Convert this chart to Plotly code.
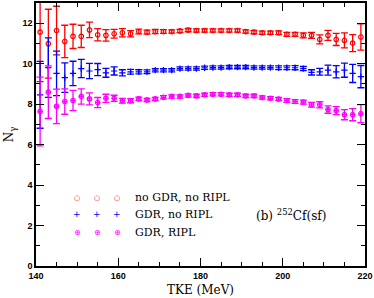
import plotly.graph_objects as go

tke = list(range(141, 220, 2))

red_y = [11.56, 10.99, 11.64, 11.10, 11.35, 11.35, 11.67, 11.43, 11.40, 11.48,
         11.53, 11.48, 11.59, 11.56, 11.59, 11.59, 11.59, 11.62, 11.66, 11.64,
         11.64, 11.64, 11.64, 11.64, 11.64, 11.59, 11.56, 11.53, 11.53, 11.53,
         11.45, 11.45, 11.40, 11.40, 11.20, 11.40, 11.20, 11.15, 11.02, 11.32]
red_e = [2.45, 1.7, 1.2, 0.8, 0.6, 0.55, 0.38, 0.3, 0.28, 0.22,
         0.2, 0.15, 0.12, 0.1, 0.1, 0.09, 0.08, 0.08, 0.08, 0.08,
         0.08, 0.08, 0.08, 0.08, 0.08, 0.08, 0.08, 0.08, 0.08, 0.09,
         0.1, 0.1, 0.12, 0.15, 0.22, 0.25, 0.3, 0.37, 0.42, 0.65]

blue_y = [8.46, 9.81, 9.52, 9.31, 9.52, 9.76, 9.64, 9.71, 9.55, 9.64,
          9.55, 9.60, 9.60, 9.60, 9.68, 9.68, 9.68, 9.76, 9.76, 9.76,
          9.80, 9.81, 9.81, 9.83, 9.83, 9.83, 9.81, 9.81, 9.81, 9.80,
          9.80, 9.80, 9.76, 9.57, 9.60, 9.68, 9.60, 9.68, 9.52, 9.36]
blue_e = [1.65, 1.47, 1.1, 0.73, 0.6, 0.45, 0.38, 0.3, 0.22, 0.2,
          0.15, 0.12, 0.1, 0.09, 0.08, 0.08, 0.08, 0.08, 0.08, 0.08,
          0.08, 0.08, 0.08, 0.08, 0.08, 0.08, 0.08, 0.08, 0.08, 0.09,
          0.09, 0.1, 0.1, 0.13, 0.17, 0.25, 0.3, 0.35, 0.45, 0.55]

mag_y = [7.64, 8.59, 7.89, 8.13, 8.18, 8.38, 8.26, 8.08, 8.29, 8.29,
         8.17, 8.17, 8.26, 8.21, 8.26, 8.34, 8.38, 8.38, 8.43, 8.41,
         8.46, 8.49, 8.49, 8.46, 8.46, 8.41, 8.41, 8.33, 8.29, 8.25,
         8.18, 8.13, 8.10, 7.97, 7.97, 7.73, 7.68, 7.48, 7.48, 7.53]
mag_e = [1.7, 1.3, 0.85, 0.63, 0.5, 0.38, 0.3, 0.25, 0.2, 0.15,
         0.12, 0.1, 0.09, 0.08, 0.08, 0.08, 0.08, 0.08, 0.08, 0.08,
         0.08, 0.08, 0.08, 0.08, 0.08, 0.08, 0.08, 0.08, 0.08, 0.08,
         0.09, 0.09, 0.1, 0.12, 0.15, 0.18, 0.2, 0.25, 0.3, 0.45]

series_names = ["no GDR, no RIPL", "GDR, no RIPL", "GDR, RIPL"]
colors = ["#ff0000", "#0000ff", "#ff00ff"]
symbols = ["circle-open", "cross-thin-open", "circle-cross-open"]
glyphs = ["○", "+", "⊕"]

x_ticks = [140, 160, 180, 200, 220]
y_ticks = [0, 2, 4, 6, 8, 10, 12]

fig = go.Figure()
for name, ys, es, col, sym in zip(series_names, [red_y, blue_y, mag_y],
                                  [red_e, blue_e, mag_e], colors, symbols):
    fig.add_trace(go.Scatter(
        x=tke, y=ys, mode="markers", name=name, showlegend=False,
        marker=dict(symbol=sym, size=4.5, color=col, line=dict(color=col, width=1.2)),
        error_y=dict(type="data", array=es, visible=True, color=col,
                     thickness=1.3, width=3.5),
    ))

serif = "DejaVu Serif"
axis_common = dict(showgrid=False, zeroline=False, showline=True, linecolor="black",
                   linewidth=1.5, mirror="allticks", ticks="inside", ticklen=8,
                   tickwidth=1.2, tickcolor="black",
                   tickfont=dict(family="Liberation Sans", size=9, color="black", weight="bold"))

fig.update_xaxes(range=[140, 220], tickvals=x_ticks,
                 minor=dict(dtick=5, ticks="inside", ticklen=4, tickcolor="black", tickwidth=1),
                 title=dict(text="TKE (MeV)", font=dict(family=serif, size=12, color="black"), standoff=6),
                 **axis_common)
fig.update_yaxes(range=[0, 13], tickvals=y_ticks,
                 minor=dict(dtick=1, ticks="inside", ticklen=4, tickcolor="black", tickwidth=1),
                 title=dict(text="N<sub>γ</sub>", font=dict(family=serif, size=12, color="black"), standoff=6),
                 **axis_common)

# legend built from text glyphs
x0 = 36.0; w = 329.0; top = 1.0; h = 265.0
def px(xp):
    return (xp - x0) / w
def py(yp):
    return (top + h - yp) / h

rows = [197, 214, 232]
glyph_sizes = [7, 9, 8]
for name, col, g, gs, ry in zip(series_names, colors, glyphs, glyph_sizes, rows):
    for mx in [77, 97, 117]:
        fig.add_annotation(x=px(mx), y=py(ry), xref="paper", yref="paper", text=g,
                           showarrow=False, xanchor="center", yanchor="middle",
                           font=dict(family="DejaVu Sans", size=gs, color=col))
    fig.add_annotation(x=px(133), y=py(ry), xref="paper", yref="paper", text=name,
                       showarrow=False, xanchor="left", yanchor="middle",
                       font=dict(family=serif, size=11, color="black"))

fig.add_annotation(x=px(254), y=py(215), xref="paper", yref="paper",
                   text="(b) <sup>252</sup>Cf(sf)", showarrow=False,
                   xanchor="left", yanchor="middle",
                   font=dict(family=serif, size=12, color="black"))

fig.update_layout(width=374, height=298, margin=dict(l=36, r=9, t=1, b=32),
                  plot_bgcolor="white", paper_bgcolor="white")

fig.write_html("out.html", config={"displayModeBar": False},
               post_script="document.body.style.margin='0';document.body.style.overflow='hidden';")
